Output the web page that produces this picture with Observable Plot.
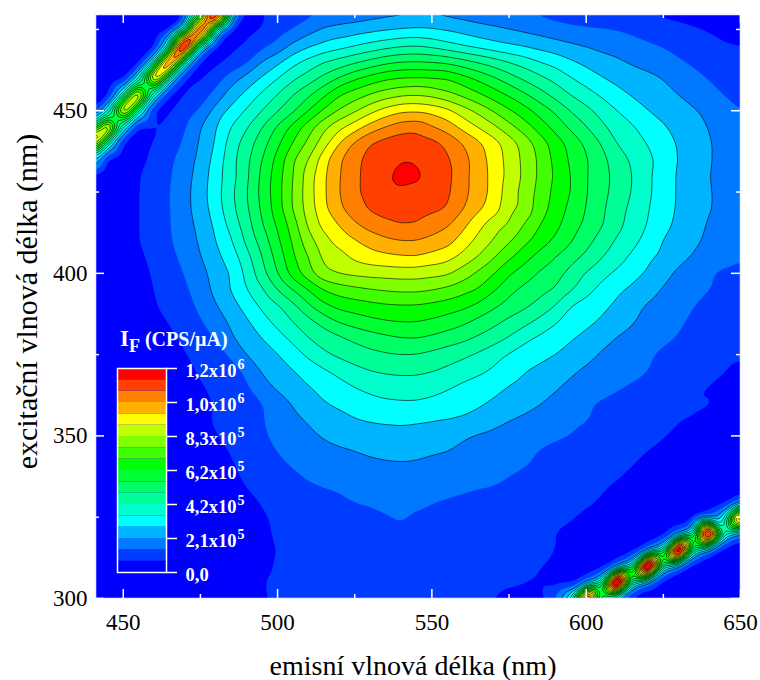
<!DOCTYPE html>
<html>
<head>
<meta charset="utf-8">
<script src="https://cdn.jsdelivr.net/npm/d3@7"></script>
<script src="https://cdn.jsdelivr.net/npm/@observablehq/plot@0.6"></script>
<style>
  html, body { margin: 0; padding: 0; background: #fff; }
  #chart { position: relative; width: 760px; height: 680px; font-family: "Liberation Serif", serif; overflow: hidden; }
  #chart svg { position: absolute; left: 0; top: 0; background: transparent; }
  #legendTitle { position: absolute; left: 120px; top: 326px; color: #fff; font-weight: bold; font-size: 20px; white-space: nowrap; }
  #legendTitle .i { font-size: 23px; }
  #legendTitle sub { font-size: 18px; vertical-align: -6px; line-height: 0; margin-right: 5px; }
</style>
</head>
<body>
<div id="chart"></div>
<script>
// Intensity step of one colour band, CPS/µA
const bandWidth = 1250000 / 18;
// Emission wavelengths (columns), nm
const emission = d3.range(440, 651, 5);
// Excitation wavelengths (rows, top to bottom), nm
const excitation = d3.range(480, 299, -5);
// Measured intensity in colour-band units, one row per excitation wavelength
const intensityBands = [
[0,0,0,0,0,0,.5,5,21,5,.6,.95,1.2,1.5,1.7,2,2.2,2.35,2.5,2.6,2.65,2.7,2.7,2.65,2.55,2.4,2.3,2.15,1.95,1.8,1.6,1.4,1.25,1.15,1.05,1,.9,.8,.7,.6,.5,.4,.3],
[0,0,0,0,0,.5,5,19,5,.5,.7,1,1.5,2,2.6,3.15,3.35,3.5,3.7,3.9,4.05,4.15,4.1,3.9,3.65,3.4,3.2,3,2.8,2.6,2.4,2.25,2.15,2.1,2,1.85,1.65,1.45,1.25,1.1,.95,.8,.7],
[0,0,0,0,.5,5,22,5,.5,.8,1.1,1.7,2.3,3.2,3.85,4.25,4.6,4.95,5.3,5.6,5.85,5.95,5.7,5.3,4.95,4.65,4.35,4.1,3.9,3.65,3.4,3.15,2.95,2.7,2.5,2.25,2.1,1.95,1.7,1.45,1.2,1.05,1],
[0,0,0,.5,5,19,5,.5,.8,1.2,1.8,3.1,3.75,4.7,5.35,6,6.4,6.85,7.3,7.75,8,8.05,7.95,7.8,7.4,6.95,6.5,6,5.55,5,4.65,4.15,3.75,3.45,3.2,2.85,2.65,2.4,2.1,1.85,1.5,1.3,1.2],
[0,0,.5,5,17,5,.6,.9,1.5,2.5,3.4,4.1,5,5.8,6.5,7.3,8.1,8.85,9.4,9.85,10.05,10.1,10.05,10,9.4,8.8,8.15,7.45,6.8,6.25,5.7,5.05,4.55,4.05,3.75,3.5,3.25,3,2.55,2.25,1.95,1.7,1.5],
[0,.5,5,16,5,.6,1,1.5,2.3,3.5,4.25,5.2,6,7,7.8,8.8,9.95,10.5,11.05,11.5,11.8,11.9,11.7,11.25,10.75,10.15,9.5,8.85,8.15,7.4,6.65,5.95,5.4,4.85,4.3,3.9,3.6,3.25,3,2.6,2.25,1.95,1.7],
[.5,5,16,5,.6,.9,1.5,2.1,3.45,4.25,5.15,6,6.95,7.8,9,10.15,11.1,11.85,12.7,13.4,13.85,13.9,13.7,13.3,12.5,11.75,10.95,10.15,9.4,8.6,7.85,6.95,6.3,5.65,5,4.5,4,3.7,3.35,3.1,2.75,2.35,2],
[5,16,5,.6,.85,1.35,1.9,2.95,3.95,5.05,5.9,7,8.15,9.35,10.55,11.8,12.75,13.55,14.4,15.05,15.55,15.7,15.1,14.55,13.7,12.95,12.2,11.35,10.5,9.55,8.65,7.8,7.05,6.2,5.6,5.1,4.55,4.1,3.7,3.3,2.95,2.6,2.3],
[16,5,.6,.6,1.05,1.55,2.15,3.15,4.1,5.5,6.5,7.6,8.8,10.05,11.25,12.55,14.05,15.2,16.05,16.4,16.6,16.6,16.35,15.8,15,14.25,13.45,12.55,11.6,10.55,9.55,8.65,7.8,6.95,5.95,5.45,4.95,4.45,3.9,3.5,3.05,2.7,2.4],
[5,.5,.2,.7,1.25,1.8,2.45,3.3,4.35,5.65,6.75,8,9.35,10.9,12,13.65,14.85,15.8,16.25,16.55,16.9,16.85,16.5,16.15,15.4,14.5,13.6,12.65,11.75,10.8,9.7,8.85,8.1,7.3,6.5,5.85,5.25,4.6,3.95,3.5,3.05,2.7,2.4],
[.5,0,.2,.95,1.45,1.9,2.6,3.45,4.55,5.6,6.8,8.25,9.55,11,12.5,13.85,14.95,15.85,16.3,16.65,17.6,17.2,16.6,16.3,15.35,14.5,13.7,12.7,11.8,10.8,9.85,9,8.05,7.4,6.65,6,5.15,4.55,3.85,3.4,3,2.7,2.4],
[0,0,.2,1,1.5,1.95,2.7,3.55,4.6,5.8,6.95,8.35,9.6,11.1,12.55,13.85,15,15.9,16.25,16.5,16.7,16.7,16.55,16.2,15.35,14.5,13.7,12.45,11.65,10.65,9.7,9,8.05,7.35,6.6,5.95,5.15,4.55,3.85,3.5,3.05,2.7,2.4],
[0,0,.3,1,1.5,1.95,2.7,3.5,4.5,5.7,6.85,8.2,9.55,11.1,12.45,13.8,14.8,15.65,16.15,16.35,16.5,16.45,16.25,16,15.1,14.25,13.5,12.3,11.75,10.45,9.6,8.75,7.95,7.2,6.4,5.75,5.05,4.45,3.85,3.4,3.05,2.7,2.4],
[0,0,.3,1,1.5,1.95,2.55,3.35,4.2,5.4,6.55,7.95,9.15,10.5,12.2,13.35,14.05,14.85,15.45,15.8,16,15.95,15.5,15.15,14.3,13.3,12.45,11.9,10.95,10,9.3,8.45,7.8,7.1,6.3,5.6,4.95,4.3,3.75,3.3,2.9,2.6,2.3],
[0,0,.3,1,1.45,1.9,2.45,3.15,4,4.9,6.25,7.45,8.8,10.15,11.6,12.65,13.35,13.9,14.4,14.8,15,15,14.75,14.4,13.55,12.7,11.95,11.15,10.3,9.5,8.8,8.1,7.35,6.6,5.85,5.3,4.65,3.95,3.5,3.15,2.8,2.5,2.25],
[0,0,.2,.8,1.3,1.75,2.25,2.95,3.7,4.45,5.65,7,8.4,9.85,11,12.25,12.6,13.2,13.55,13.75,13.9,13.95,13.65,13.35,12.7,11.95,11.1,10.2,9.35,8.6,8,7.4,6.8,6.05,5.4,4.8,4.2,3.75,3.3,2.9,2.6,2.35,2.1],
[0,0,.1,.6,1.15,1.55,2.05,2.65,3.45,4.05,5.25,6.65,8,9.45,10.65,11.8,12.1,12.25,12.35,12.4,12.45,12.45,12.3,12.15,11.5,10.8,10.05,9.1,8.45,7.85,7.4,6.7,5.9,5.3,4.8,4.35,3.85,3.3,2.8,2.4,2.05,1.8,1.7],
[0,0,.05,.45,1.05,1.35,1.85,2.45,3.3,4.05,4.95,5.85,7,8,9,10.05,10.5,10.75,10.95,11.1,11.2,11.2,11.05,10.75,10.35,9.95,9.1,8.3,7.75,7.35,6.95,6.15,5.35,4.7,4.2,3.8,3.35,2.9,2.5,2.2,2,1.85,1.65],
[0,0,0,.3,.95,1.25,1.65,2.2,2.95,3.6,4.4,5.2,5.85,6.75,7.85,8.75,9.3,9.5,9.7,9.85,9.9,9.9,9.75,9.55,9.25,8.8,8.2,7.6,7.2,6.65,6,4.95,4.65,4.25,3.8,3.3,2.9,2.6,2.3,2,1.8,1.6,1.5],
[0,0,0,.1,.7,1.05,1.45,1.9,2.5,3.2,3.85,4.6,5.3,6,6.65,7.4,8.05,8.4,8.7,8.9,9,9,8.8,8.5,8.2,7.7,7.25,6.75,6.3,5.7,5.05,4.6,4.25,3.85,3.45,3.1,2.6,2.3,2.1,1.85,1.65,1.5,1.35],
[0,0,0,0,.35,.8,1.2,1.6,2.05,2.9,3.45,4,4.6,5.25,6,6.4,6.8,7.2,7.5,7.75,7.95,8,7.8,7.55,7.25,6.85,6.45,5.9,5.2,4.8,4.55,4.1,3.7,3.3,2.95,2.65,2.35,2.15,1.95,1.75,1.55,1.4,1.25],
[0,0,0,0,0,.5,.95,1.35,1.75,2.05,3.1,3.5,3.95,4.55,5.2,5.85,6.2,6.5,6.75,6.9,7,6.95,6.75,6.45,6.2,5.85,5.35,4.9,4.6,4.3,4,3.6,3.25,2.9,2.65,2.4,2.1,1.85,1.65,1.45,1.25,1.1,1.05],
[0,0,0,0,0,.2,.7,1.15,1.5,1.8,2.1,3.15,3.6,3.95,4.45,4.85,5.3,5.7,6,6.15,6.2,6.2,6.05,5.8,5.5,5.2,4.85,4.5,4.05,3.75,3.45,3.15,2.85,2.6,2.4,2.25,2,1.8,1.6,1.45,1.25,1,.9],
[0,0,0,0,0,0,.5,.9,1.25,1.55,1.9,2.55,3.2,3.55,3.95,4.3,4.65,5,5.25,5.4,5.5,5.5,5.3,5.1,4.8,4.55,4.3,3.95,3.65,3.4,3.1,2.8,2.5,2.3,2.1,1.9,1.7,1.5,1.3,1.1,.95,.85,.8],
[0,0,0,0,0,0,.25,.65,1.1,1.35,1.65,1.95,2.45,3.1,3.5,3.95,4.25,4.5,4.7,4.85,4.9,4.9,4.8,4.6,4.35,4.15,3.85,3.55,3.3,3.05,2.75,2.35,2.1,1.9,1.75,1.55,1.4,1.25,1.1,1,1.05,.85,.75],
[0,0,0,0,0,.1,.55,.8,1.1,1.4,1.7,1.95,2.3,2.8,3.1,3.4,3.6,3.95,4.05,4.1,4.15,4.1,4.05,4,3.9,3.65,3.35,3.05,2.85,2.6,2.4,2.15,2.05,1.8,1.6,1.45,1.3,1.15,1.05,1,.8,.55,.4],
[0,0,0,0,0,.05,.4,.7,.95,1.3,1.65,1.85,2.25,2.55,2.8,3.1,3.3,3.55,3.7,3.75,3.75,3.7,3.6,3.35,3.1,2.9,2.75,2.55,2.35,2.2,2.1,2,1.8,1.6,1.45,1.3,1.15,1.05,.85,.6,.4,.25,.2],
[0,0,0,0,0,0,.15,.4,.7,1.05,1.35,1.7,2,2.3,2.5,2.7,2.85,2.95,3.15,3.25,3.3,3.25,3.1,3,2.8,2.6,2.4,2.25,2.15,1.95,1.8,1.65,1.5,1.35,1.2,1.1,1,.8,.55,.35,.2,.1,.05],
[0,0,0,0,0,0,0,.15,.45,.9,1.2,1.5,1.8,2,2.15,2.3,2.45,2.55,2.65,2.75,2.8,2.75,2.6,2.55,2.4,2.3,2.2,2.1,2,1.85,1.7,1.5,1.35,1.25,1.1,1,.75,.5,.3,.15,.05,0,0],
[0,0,0,0,0,0,0,.05,.15,.6,1.1,1.35,1.55,1.8,1.97,2.05,2.1,2.2,2.3,2.4,2.4,2.4,2.3,2.25,2.2,2.1,2.05,1.9,1.75,1.6,1.45,1.3,1.15,1.05,.98,.7,.45,.25,.1,0,0,0,0],
[0,0,0,0,0,0,0,0,0,.2,.7,1.1,1.3,1.45,1.6,1.8,1.9,2.05,2.15,2.2,2.25,2.2,2.05,1.95,1.85,1.75,1.65,1.5,1.45,1.35,1.3,1.2,1.1,.98,.6,.3,.1,0,0,0,0,.5,2],
[0,0,0,0,0,0,0,0,0,0,.2,.9,1.15,1.3,1.4,1.5,1.6,1.7,1.75,1.95,2.1,1.9,1.8,1.75,1.6,1.5,1.45,1.3,1.2,1.1,1.05,1.03,.9,.5,.2,.05,0,0,0,.5,2,5,20],
[0,0,0,0,0,0,0,0,0,0,.1,.85,1.1,1.2,1.3,1.35,1.4,1.5,1.55,1.65,1.8,1.6,1.55,1.5,1.4,1.3,1.2,1.1,1.05,1.02,1,.95,.6,.2,0,0,0,.5,2,5,25,5,2],
[0,0,0,0,0,0,0,0,0,0,.05,.7,1.05,1.1,1.2,1.25,1.3,1.35,1.4,1.45,1.5,1.4,1.4,1.3,1.25,1.2,1.15,1.1,1.05,1.02,1.02,.8,.3,.05,0,.5,2,5,26,5,2,.5,0],
[0,0,0,0,0,0,0,0,0,0,.05,.8,1.1,1.15,1.2,1.2,1.25,1.3,1.3,1.3,1.35,1.3,1.25,1.2,1.15,1.1,1.07,1.05,1.05,1.02,.95,.5,.1,.5,2,5,27,5,2,.5,0,0,0],
[0,0,0,0,0,0,0,0,0,0,.1,1,1.15,1.15,1.2,1.2,1.25,1.25,1.2,1.2,1.2,1.2,1.2,1.15,1.15,1.1,1.1,1.05,1.05,.95,.5,.5,2,5,27,5,2,.5,0,0,0,0,0],
[0,0,0,0,0,0,0,0,0,0,.2,.95,1.1,1.15,1.15,1.15,1.2,1.15,1.15,1.1,1.1,1.1,1.1,1.1,1.05,1.02,1,.9,.7,.6,1.9,5,22,5,2,.5,0,0,0,0,0,0,0]
];
// Colour of each band, low to high
const bandColors = ["#0000ff","#003cff","#0078ff","#00b4ff","#00ffff","#00ffcc","#00ff99","#00ff66","#00ff33","#00ff00","#40ff00","#80ff00","#bfff00","#ffff00","#ffb000","#ff8000","#ff4000","#ff0000"];
// Colour-bar tick labels
const legendMantissa = ["0,0","2,1x10","4,2x10","6,2x10","8,3x10","1,0x10","1,2x10"];
const legendExponent = ["","5","5","5","5","6","6"];
const xMajor = [450,500,550,600,650];
const xMinor = [475,525,575,625];
const yMajor = [300,350,400,450];
const yMinor = [325,375,425,475];

const samples = excitation.flatMap((ex, r) => emission.map((em, c) => ({em, ex, value: intensityBands[r][c] * bandWidth})));
const thresholds = d3.range(1, 18).map(k => k * bandWidth);
const surface = {x: "em", y: "ex", value: "value", interpolate: "barycentric", pixelSize: 1, blur: 4, clip: true};
const white = "#fff";

const main = Plot.plot({
  width: 760, height: 680,
  marginLeft: 95, marginRight: 20, marginTop: 14, marginBottom: 82,
  style: {fontFamily: "Liberation Serif, serif", background: "transparent", color: "#000", overflow: "visible"},
  x: {domain: [441, 650]},
  y: {domain: [300, 479.6]},
  color: {type: "threshold", domain: thresholds, range: bandColors},
  marks: [
    Plot.frame({fill: bandColors[0]}),
    Plot.contour(samples, {...surface, thresholds, fill: "value"}),
    Plot.contour(samples, {...surface, thresholds: thresholds.slice(2), fill: "none", stroke: "#000", strokeWidth: 0.6}),
    Plot.frame({stroke: "#eef", strokeWidth: 1.5}),
    Plot.tickX(xMajor, {x: d => d, stroke: white, strokeWidth: 1.5, insetTop: 575}),
    Plot.tickX(xMinor, {x: d => d, stroke: white, strokeWidth: 1.5, insetTop: 580}),
    Plot.tickX(xMajor, {x: d => d, stroke: white, strokeWidth: 1.5, insetBottom: 575}),
    Plot.tickX(xMinor, {x: d => d, stroke: white, strokeWidth: 1.5, insetBottom: 580}),
    Plot.tickY(yMajor, {y: d => d, stroke: white, strokeWidth: 1.5, insetRight: 636}),
    Plot.tickY(yMinor, {y: d => d, stroke: white, strokeWidth: 1.5, insetRight: 641}),
    Plot.tickY(yMajor, {y: d => d, stroke: white, strokeWidth: 1.5, insetLeft: 636}),
    Plot.tickY(yMinor, {y: d => d, stroke: white, strokeWidth: 1.5, insetLeft: 641}),
    Plot.axisX({ticks: xMajor, tickSize: 0, tickPadding: 15, fontSize: 23, label: null}),
    Plot.axisY({ticks: yMajor, tickSize: 0, tickPadding: 8, fontSize: 23, label: null}),
    Plot.text(["emisní vlnová délka (nm)"], {frameAnchor: "bottom", textAnchor: "middle", dx: -5, dy: 68, fontSize: 28, lineAnchor: "middle"}),
    Plot.text(["excitační vlnová délka (nm)"], {frameAnchor: "left", textAnchor: "middle", rotate: -90, dx: -68, dy: -5, fontSize: 30, lineAnchor: "middle"})
  ]
});

const bandIndex = d3.range(0, 18);
const tickValues = d3.range(0, 7).map(k => k * 3 * bandWidth);
const legendFont = {fill: white, fontWeight: "bold", textAnchor: "start", lineAnchor: "middle"};
const legend = Plot.plot({
  width: 760, height: 680,
  marginLeft: 117, marginRight: 594, marginTop: 368, marginBottom: 108,
  style: {fontFamily: "Liberation Serif, serif", background: "transparent", overflow: "visible"},
  x: {domain: [0, 1], axis: null},
  y: {domain: [0, 18 * bandWidth], axis: null},
  marks: [
    Plot.rect(bandIndex, {x1: 0, x2: 1, y1: k => k * bandWidth, y2: k => (k + 1) * bandWidth, fill: k => bandColors[k]}),
    Plot.frame({stroke: white, strokeWidth: 1.5}),
    Plot.tickY(tickValues, {y: d => d, stroke: white, strokeWidth: 1.5, insetLeft: 49, insetRight: -11}),
    Plot.text(legendMantissa, {...legendFont, x: 1, y: (d, i) => tickValues[i], dx: 19, dy: 3, fontSize: 18.5}),
    Plot.text(legendExponent, {...legendFont, x: 1, y: (d, i) => tickValues[i], dx: 71, dy: -4, fontSize: 14})
  ]
});

const title = document.createElement("div");
title.id = "legendTitle";
title.innerHTML = '<span class="i">I</span><sub>F</sub>(CPS/µA)';

const chart = document.getElementById("chart");
chart.append(main, legend, title);
</script>
</body>
</html>
